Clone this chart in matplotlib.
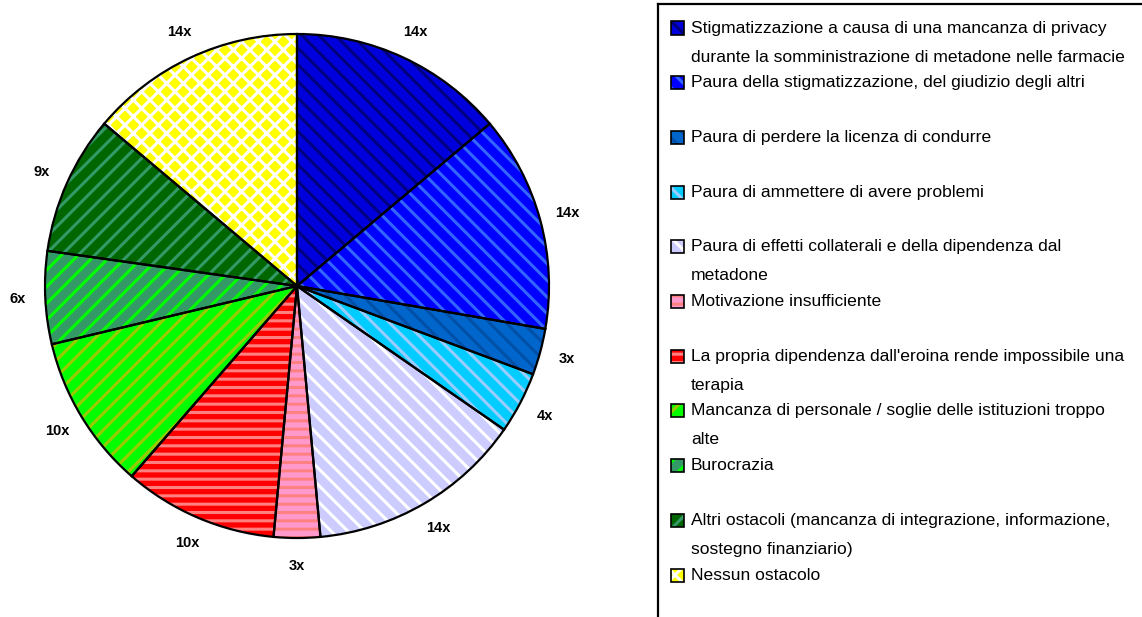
import numpy as np
import matplotlib.pyplot as plt
from matplotlib.patches import Rectangle
from matplotlib.lines import Line2D

plt.rcParams['hatch.linewidth'] = 2.2

W, H = 1142, 617

legend_labels = [
    "Stigmatizzazione a causa di una mancanza di privacy\ndurante la somministrazione di metadone nelle farmacie",
    "Paura della stigmatizzazione, del giudizio degli altri",
    "Paura di perdere la licenza di condurre",
    "Paura di ammettere di avere problemi",
    "Paura di effetti collaterali e della dipendenza dal\nmetadone",
    "Motivazione insufficiente",
    "La propria dipendenza dall'eroina rende impossibile una\nterapia",
    "Mancanza di personale / soglie delle istituzioni troppo\nalte",
    "Burocrazia",
    "Altri ostacoli (mancanza di integrazione, informazione,\nsostegno finanziario)",
    "Nessun ostacolo",
]
values = [14, 14, 3, 4, 14, 3, 10, 10, 6, 9, 14]
count_labels = [f"{v}x" for v in values]

face_colors = ['#0000DD', '#0000FF', '#0066CC', '#00CCFF', '#CCCCFF', '#FF99CC',
               '#FF0000', '#00FF00', '#339966', '#006600', '#FFFF00']
hatch_colors = ['#000080', '#3366FF', '#0050A8', '#99CCFF', '#FFFFFF', '#FF8080',
                '#FF8080', '#99CC00', '#00FF00', '#339966', '#FFFFFF']
hatches = ['\\\\', '\\\\', '\\\\', '\\\\', '\\\\', '--', '--', '//', '//', '//', 'xx']

fig = plt.figure(figsize=(W / 100, H / 100), dpi=100)

# pie occupies a 504 px square centred on (297, 286)
cx, cy, r = 297, 286, 252
ax = fig.add_axes([(cx - r) / W, 1 - (cy + r) / H, 2 * r / W, 2 * r / H])

wedges, _ = ax.pie(values, colors=face_colors, startangle=90, counterclock=False,
                   radius=1, center=(0, 0), frame=False)
for w, hc, h in zip(wedges, hatch_colors, hatches):
    w.set_edgecolor(hc)
    w.set_hatch(h)
    w.set_linewidth(0)

# black outlines on top
ax.pie(values, startangle=90, counterclock=False, radius=1, center=(0, 0), frame=False,
       wedgeprops=dict(fill=False, edgecolor='black', linewidth=1.6))

# pie() resets the limits, so set them afterwards
ax.set_xlim(-1, 1)
ax.set_ylim(-1, 1)
ax.set_aspect('equal')
ax.axis('off')

# count labels just outside the rim
total = sum(values)
cum = np.cumsum([0] + values)
for i, lab in enumerate(count_labels):
    mid = 90 - (cum[i] + values[i] / 2) / total * 360
    a = np.deg2rad(mid)
    ax.text(1.11 * np.cos(a), 1.11 * np.sin(a), lab, ha='center', va='center',
            fontsize=10.5, fontweight='heavy', family='Liberation Sans', clip_on=False)

# legend box (only left and top edges visible)
fig.add_artist(Line2D([658 / W, 658 / W], [0, 1 - 4 / H], color='black', lw=1.6,
                      transform=fig.transFigure))
fig.add_artist(Line2D([658 / W, 1], [1 - 4 / H, 1 - 4 / H], color='black', lw=1.6,
                      transform=fig.transFigure))

row0, step, line_gap = 28, 54.7, 29
sq = 13
for i, lab in enumerate(legend_labels):
    y = row0 + i * step
    fig.add_artist(Rectangle((671 / W, 1 - (y + sq / 2) / H), sq / W, sq / H,
                             facecolor=face_colors[i], edgecolor=hatch_colors[i],
                             hatch=hatches[i], lw=0, transform=fig.transFigure))
    fig.add_artist(Rectangle((671 / W, 1 - (y + sq / 2) / H), sq / W, sq / H,
                             fill=False, edgecolor='black', lw=1.2,
                             transform=fig.transFigure))
    for j, line in enumerate(lab.split('\n')):
        fig.text(691 / W, 1 - (y + j * line_gap) / H, line, ha='left', va='center',
                 fontsize=12.6, family='Liberation Sans')

fig.savefig('out.png', dpi=100)
